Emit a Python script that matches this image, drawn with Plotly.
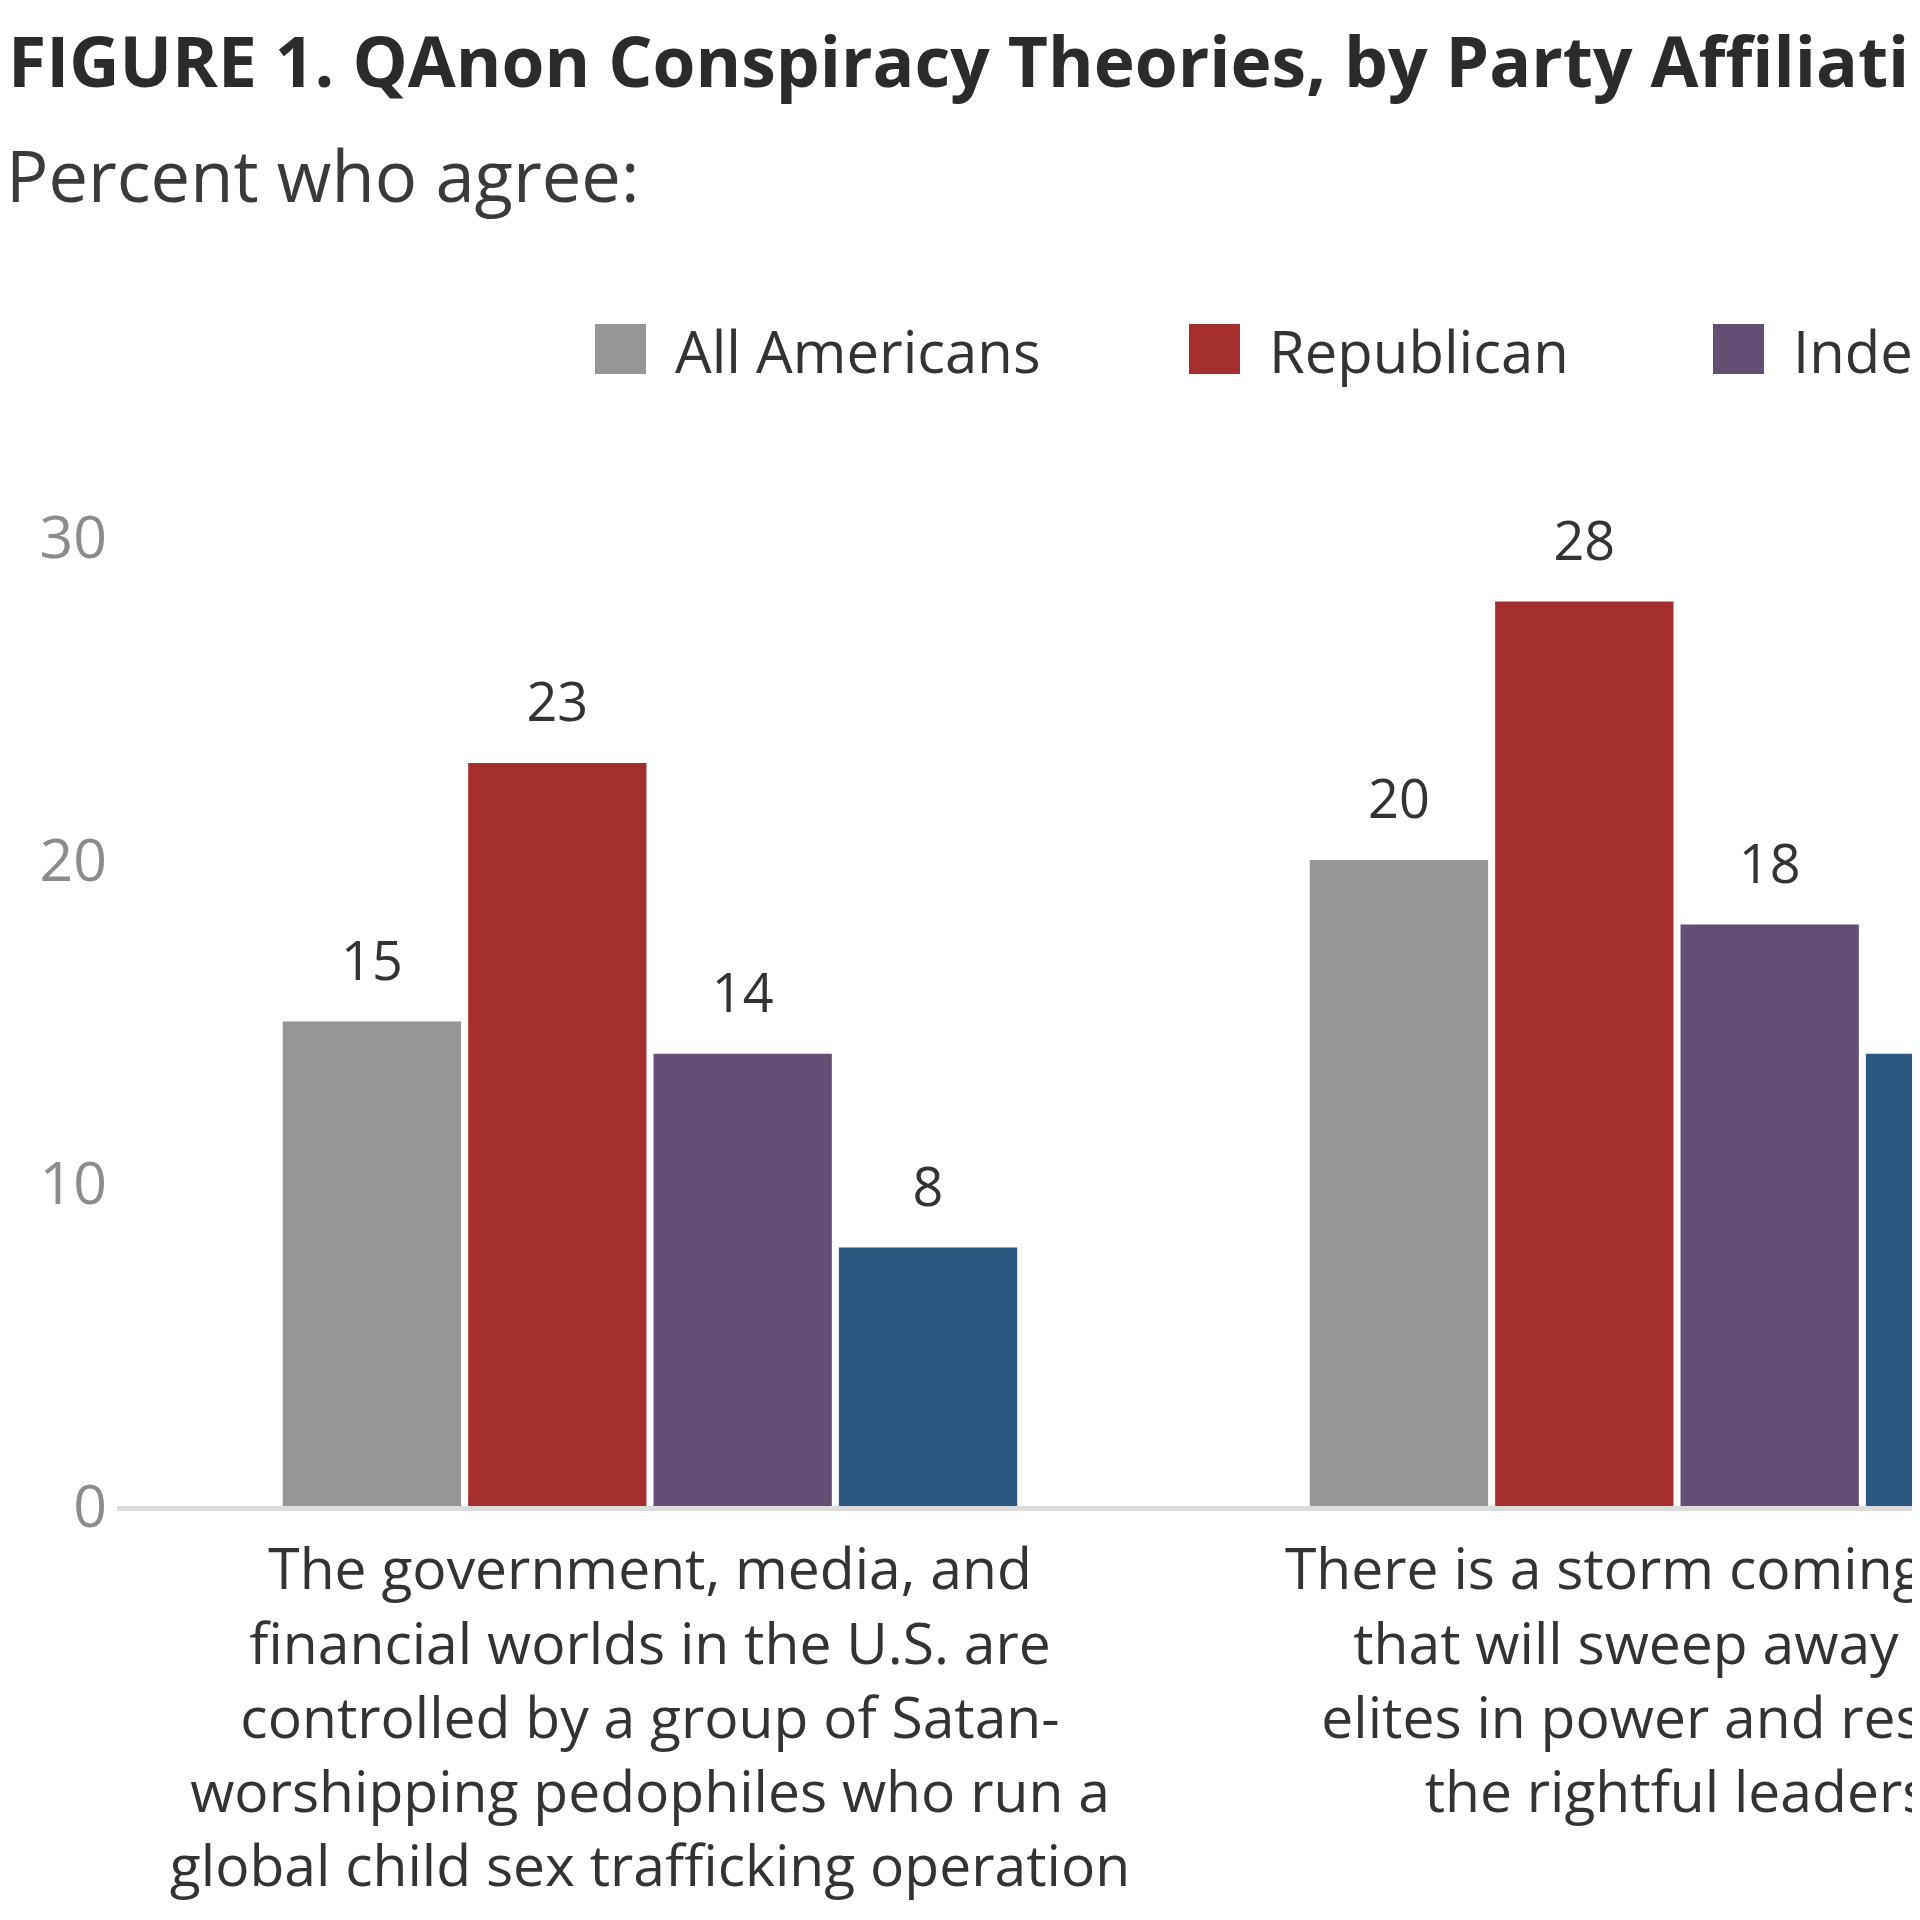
import plotly.graph_objects as go

# ---------------- data ----------------
categories = [
    "The government, media, and<br>financial worlds in the U.S. are<br>controlled by a group of Satan-<br>worshipping pedophiles who run a<br>global child sex trafficking operation",
    "There is a storm coming soon<br>that will sweep away the<br>elites in power and restore<br>the rightful leaders",
]
series_names = ["All Americans", "Republican", "Independent", "Democrat"]
all_americans = [15, 20]
republican = [23, 28]
independent = [14, 18]
democrat = [8, 14]
series_values = [all_americans, republican, independent, democrat]
series_colors = ["#959698", "#a52f2d", "#634f73", "#2b5880"]
y_ticks = [0, 10, 20, 30]

title_text = "FIGURE 1. QAnon Conspiracy Theories, by Party Affiliation"
subtitle_text = "Percent who agree:"

# ---------------- layout constants ----------------
BODY = 8                      # default page margin of the html body
W, H = 1912, 1912
ML, MR, MT, MB = 109, 0, 408, 414
FONT = "Open Sans"
TEXT_DARK = "#333333"
PLOT_W = W - ML - MR
PLOT_H = H - MT - MB
PX_PER_CAT = 1027.0
PX_PER_UNIT = 32.3


def pxx(px):
    """page pixel x -> paper x"""
    return (px - BODY - ML) / PLOT_W


def pxy(py):
    """page pixel y -> paper y"""
    return (H - MB - (py - BODY)) / PLOT_H


x_idx = list(range(len(categories)))
x_start = -(650 - BODY - ML) / PX_PER_CAT
x_end = x_start + PLOT_W / PX_PER_CAT
y_top = PLOT_H / PX_PER_UNIT

fig = go.Figure()
for name, vals, col in zip(series_names, series_values, series_colors):
    fig.add_trace(go.Bar(
        x=x_idx, y=vals, name=name, offsetgroup=name,
        marker=dict(color=col, line=dict(width=0)),
        showlegend=False, hoverinfo="y+name",
    ))
for name, vals in zip(series_names, series_values):
    fig.add_trace(go.Scatter(
        x=x_idx, y=vals, offsetgroup=name, mode="markers+text",
        text=[str(v) for v in vals], textposition="top center",
        textfont=dict(family=FONT, size=54, color=TEXT_DARK),
        marker=dict(size=44, opacity=0),
        showlegend=False, hoverinfo="skip",
    ))

annotations = [
    dict(text="<b>" + title_text + "</b>", xref="paper", yref="paper",
         x=pxx(6), y=pxy(60), xanchor="left", yanchor="middle", showarrow=False,
         font=dict(family=FONT, size=69.5, color="#2b2b2b")),
    dict(text=subtitle_text, xref="paper", yref="paper",
         x=pxx(4), y=pxy(175), xanchor="left", yanchor="middle", showarrow=False,
         font=dict(family=FONT, size=70.5, color="#3a3a3a")),
]

# custom legend (large square swatches)
legend_sq_x = [595, 1189, 1713, 2240]
shapes = []
for name, col, sx in zip(series_names, series_colors, legend_sq_x):
    shapes.append(dict(type="rect", xref="paper", yref="paper",
                       x0=pxx(sx), x1=pxx(sx + 51), y0=pxy(374), y1=pxy(324),
                       fillcolor=col, line=dict(width=0), layer="above"))
    annotations.append(dict(text=name, xref="paper", yref="paper",
                            x=pxx(sx + 78), y=pxy(350), xanchor="left", yanchor="middle",
                            showarrow=False,
                            font=dict(family=FONT, size=58, color=TEXT_DARK)))

fig.update_layout(
    width=W, height=H,
    margin=dict(l=ML, r=MR, t=MT, b=MB, pad=0, autoexpand=False),
    paper_bgcolor="white", plot_bgcolor="white",
    barmode="group", bargap=0.278, bargroupgap=0.038,
    scattermode="group",
    showlegend=False,
    annotations=annotations, shapes=shapes,
    font=dict(family=FONT, color=TEXT_DARK),
)
fig.update_xaxes(
    tickvals=x_idx, ticktext=categories, range=[x_start, x_end],
    showgrid=False, zeroline=False, showline=True, linecolor="#dcdcdc", linewidth=5,
    ticks="", tickfont=dict(family=FONT, size=57, color=TEXT_DARK),
    ticklabelstandoff=10, ticklabeloverflow="allow", fixedrange=True,
    automargin=False,
)
fig.update_yaxes(
    range=[0, y_top], tickvals=y_ticks, ticktext=[str(t) for t in y_ticks],
    showgrid=False, zeroline=False, showline=False, ticks="",
    tickfont=dict(family=FONT, size=59, color="#8c8c8c"),
    ticklabelstandoff=9, fixedrange=True, automargin=False,
)

fig.write_html("out.html")
